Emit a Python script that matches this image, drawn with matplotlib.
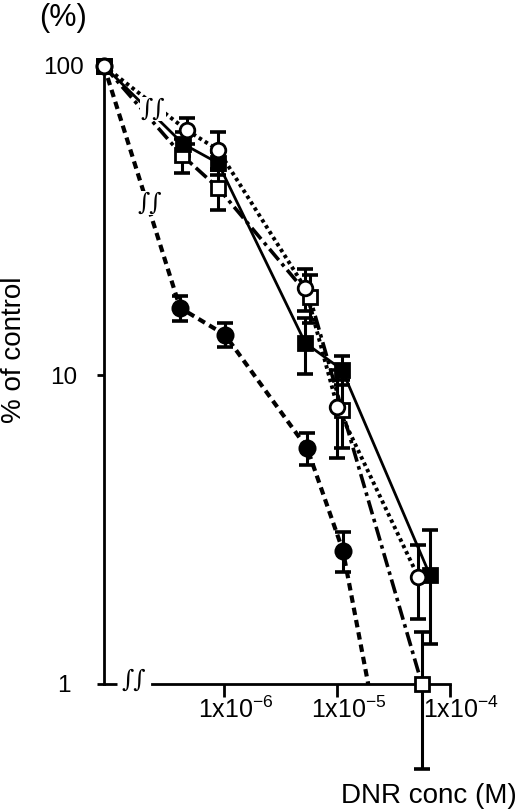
import numpy as np
import matplotlib
matplotlib.use("Agg")
import matplotlib.pyplot as plt
from matplotlib.ticker import NullLocator
from matplotlib.transforms import ScaledTranslation

plt.rcParams['font.family'] = ['Liberation Sans', 'DejaVu Sans']
plt.rcParams['mathtext.fontset'] = 'custom'
plt.rcParams['mathtext.rm'] = 'Liberation Sans'
plt.rcParams['mathtext.default'] = 'rm'

# DNR concentration (M) for each series; control (no DNR) is plotted at the left edge
conc_fsq = [4.3e-7, 8.8e-7, 5.2e-6, 1.1e-5, 6.6e-5]
conc_ocirc = [4.65e-7, 8.8e-7, 5.2e-6, 1.0e-5, 5.2e-5]
conc_osq = [4.2e-7, 8.8e-7, 5.7e-6, 1.1e-5, 5.6e-5]
conc_fcirc = [4.05e-7, 1.01e-6, 5.4e-6, 1.12e-5, 5.4e-5]

# % of control (first value = control)
pct_fsq = [100, 56, 48.5, 12.7, 10.4, 2.25]
pct_ocirc = [100, 62, 53.5, 19.1, 7.9, 2.22]
pct_osq = [100, 51.5, 40.3, 17.9, 7.7, 1.0]
pct_fcirc = [100, 16.5, 13.5, 5.8, 2.7, 0.13]

err_fsq = [0, 5, 4, 2.6, 1.1, 0.9]
err_ocirc = [0, 6, 7.5, 3, 2.5, 0.6]
err_osq = [0, 6.5, 6, 3.2, 1.9, 0.47]
err_fcirc = [0, 1.5, 1.2, 0.7, 0.4, 0]

yticks = [1, 10, 100]
ytick_labels = ['1', '10', '100']
xticks = [1e-6, 1e-5, 1e-4]
xtick_labels = [r'1x10$^{-6}$', r'1x10$^{-5}$', r'1x10$^{-4}$']

W, H = 520, 811
fig = plt.figure(figsize=(W / 100, H / 100), dpi=100)
# axes from px x 104..480, y 66..684
ax = fig.add_axes([104 / W, 1 - 684 / H, 376 / W, 618 / H])
ax.set_xscale('log')
ax.set_yscale('log')
x_left = 8.6e-8
ax.set_xlim(x_left, 1.83e-4)
ax.set_ylim(1, 100)

series = [
    # conc, pct, err, line kwargs, marker kwargs
    (conc_osq, pct_osq, err_osq, dict(lw=2.6, dashes=(4, 1.3, 1, 1.3)),
     dict(marker='s', mfc='white', ms=10.5)),
    (conc_fsq, pct_fsq, err_fsq, dict(lw=2.0, linestyle='-'),
     dict(marker='s', mfc='black', ms=10.5)),
    (conc_fcirc, pct_fcirc, err_fcirc, dict(lw=3.0, dashes=(1.8, 1.2)),
     dict(marker='o', mfc='black', ms=11)),
    (conc_ocirc, pct_ocirc, err_ocirc, dict(lw=2.8, dashes=(0.9, 0.9)),
     dict(marker='o', mfc='white', ms=10.5)),
]

for i, (conc, pct, err, lkw, mkw) in enumerate(series):
    x = np.array([x_left] + conc)
    y = np.array(pct, dtype=float)
    e = np.array(err, dtype=float)
    ax.plot(x, y, color='black', zorder=2, **lkw)
    vis = y >= 1
    eb = ax.errorbar(x[vis][1:], y[vis][1:], yerr=e[vis][1:], fmt='none', ecolor='black',
                     elinewidth=2.2, capsize=5.6, capthick=2.6, zorder=3 + i * 0.1)
    for art in list(eb.lines[1]) + list(eb.lines[2]):
        art.set_clip_on(False)
    ax.plot(x[vis], y[vis], linestyle='none', mec='black', mew=2.0, color='black',
            clip_on=False, zorder=4 + i * 0.1, **mkw)

# axes styling
for s in ['top', 'right']:
    ax.spines[s].set_visible(False)
ax.spines['left'].set_linewidth(2.0)
ax.spines['bottom'].set_linewidth(2.0)
ax.spines['left'].set_bounds(1, 100)
ax.spines['bottom'].set_bounds(2.29e-7, 1e-4)
ax.plot([x_left, 1.12e-7], [1, 1], color='black', lw=2.0, clip_on=False,
        solid_capstyle='butt')

ax.set_yticks(yticks)
ax.set_yticklabels(ytick_labels)
ax.set_xticks(xticks)
ax.set_xticklabels(xtick_labels)
ax.xaxis.set_minor_locator(NullLocator())
ax.yaxis.set_minor_locator(NullLocator())
ax.tick_params(axis='y', length=5, width=2.0, labelsize=17.5, pad=24)
ax.tick_params(axis='x', length=9.4, width=2.0, labelsize=18, pad=0)
for lab in ax.get_yticklabels():
    lab.set_horizontalalignment('center')
shift = ScaledTranslation(11 / 100, 0, fig.dpi_scale_trans)
for lab in ax.get_xticklabels():
    lab.set_transform(lab.get_transform() + shift)

# axis break marks
def px(xp, yp):
    return xp / W, 1 - yp / H

brk = dict(fontsize=17, ha='center', va='center', family='DejaVu Serif', style='italic',
           bbox=dict(facecolor='white', edgecolor='none', pad=0.3))
fig.text(*px(153, 109), '\u222b\u222b', **brk)
fig.text(*px(150, 203), '\u222b\u222b', **brk)
fig.text(*px(134, 680), '\u222b\u222b', **brk)

fig.text(*px(63, 18), '(%)', fontsize=22, ha='center', va='center')
fig.text(*px(14, 350), '% of control', fontsize=20, rotation=90, ha='center', va='center')
fig.text(*px(517, 803), 'DNR conc (M)', fontsize=20, ha='right', va='baseline')

fig.savefig('out.png', dpi=100)
